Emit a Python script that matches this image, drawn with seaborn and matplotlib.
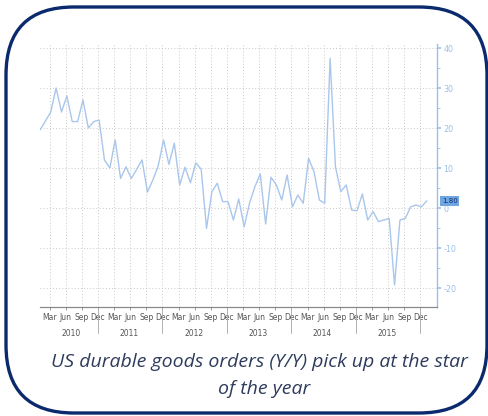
import numpy as np
import pandas as pd
import matplotlib
matplotlib.use("Agg")
import matplotlib.pyplot as plt
import seaborn as sns
from matplotlib.patches import FancyBboxPatch
from matplotlib.ticker import MultipleLocator

# Monthly US durable goods orders, Y/Y %, Jan 2010 .. Jan 2016
values = [19.5, 21.7, 24.0, 30.0, 24.0, 28.0, 21.6, 21.6, 27.0, 20.0, 21.6, 22.0,
          12.0, 10.0, 17.0, 7.4, 10.3, 7.4, 9.7, 12.0, 4.0, 7.0, 10.5, 17.0,
          10.9, 16.2, 5.75, 10.2, 6.3, 11.3, 9.7, -5.1, 4.1, 6.2, 1.6, 1.6,
          -3.0, 2.25, -4.7, 1.2, 5.3, 8.5, -4.0, 7.7, 5.75, 2.0, 8.25, 0.3,
          3.25, 1.2, 12.4, 9.1, 2.0, 1.2, 37.4, 10.3, 4.1, 5.75, -0.5, -0.7,
          3.5, -3.0, -0.9, -3.4, -3.0, -2.6, -19.25, -3.0, -2.6, 0.3, 0.75, 0.3,
          1.8]
month_idx = list(range(len(values)))

quarter_labels = ["Mar", "Jun", "Sep", "Dec"]
years = ["2010", "2011", "2012", "2013", "2014", "2015"]
y_ticks = [40, 30, 20, 10, 0, -10, -20]
last_label = "1.80"

df = pd.DataFrame({"m": month_idx, "v": values})

sns.set_theme(style="white")
plt.rcParams["font.family"] = ["DejaVu Sans"]

W, H = 489, 416
fig = plt.figure(figsize=(W / 100, H / 100), dpi=100)
fig.patch.set_facecolor("white")

# background overlay axes in pixel coordinates
bg = fig.add_axes([0, 0, 1, 1], zorder=-1)
bg.set_xlim(0, W)
bg.set_ylim(H, 0)
bg.axis("off")
border = FancyBboxPatch((6, 7), 481, 406, boxstyle="round,pad=0,rounding_size=68",
                        fill=False, edgecolor="#0b2a6e", linewidth=2.4, clip_on=False)
bg.add_patch(border)
cap_color = "#2d3b5c"
bg.text(259, 362, "US durable goods orders (Y/Y) pick up at the star", ha="center", va="center",
        fontsize=14.0, style="italic", color=cap_color, family="Open Sans")
bg.text(264, 389, "of the year", ha="center", va="center",
        fontsize=14.0, style="italic", color=cap_color, family="Open Sans")

# main chart
x0, x1 = 40, 437
y_top, y_bot = 44, 307
ax = fig.add_axes([x0 / W, 1 - y_bot / H, (x1 - x0) / W, (y_bot - y_top) / H])
ax.set_facecolor("none")
sns.lineplot(data=df, x="m", y="v", ax=ax, color="#a9c6ec", linewidth=1.0)
ax.set_xlim(0, 73.9)
ax.set_ylim(-24.75, 41)
ax.set_xlabel("")
ax.set_ylabel("")

# gridlines
grid_kw = dict(color="#c9c9c9", linewidth=0.7, linestyle=(0, (1, 2.2)), zorder=0)
for yv in y_ticks:
    ax.axhline(yv, **grid_kw)
q_pos = []
q_lab = []
for yi in range(len(years)):
    for qi, ql in enumerate(quarter_labels):
        pos = 12 * yi + 2 + 3 * qi - 0.2
        q_pos.append(pos)
        q_lab.append(ql)
for p in q_pos:
    ax.axvline(p, **grid_kw)

# right y axis
ax.yaxis.tick_right()
ax.set_yticks(y_ticks)
ax.set_yticklabels([str(t) for t in y_ticks])
ax.yaxis.set_minor_locator(MultipleLocator(5))
axis_blue = "#9cc0e8"
ax.tick_params(axis="y", which="major", direction="out", length=3, width=1.2,
               colors=axis_blue, labelsize=5.8, pad=1.5)
ax.tick_params(axis="y", which="minor", direction="out", length=2, width=0.6,
               color=axis_blue, right=True)
for s in ["top", "left"]:
    ax.spines[s].set_visible(False)
ax.spines["right"].set_color(axis_blue)
ax.spines["right"].set_linewidth(1.0)
ax.spines["bottom"].set_color("#8a8a8a")
ax.spines["bottom"].set_linewidth(0.9)

# x axis labels
ax.set_xticks(q_pos)
ax.set_xticklabels(q_lab)
ax.tick_params(axis="x", which="major", length=2, width=0.6, color="#8a8a8a",
               labelsize=5.5, labelcolor="#555555", pad=2, bottom=True)

# year labels and separators
year_centers = [5.8, 16.6, 28.7, 40.6, 52.6, 64.6]
for yc, yl in zip(year_centers, years):
    ax.text(yc, -0.1, yl, transform=ax.get_xaxis_transform(), ha="center", va="center",
            fontsize=5.5, color="#555555")
for yi in range(len(years)):
    sep = 12 * yi + 11 - 0.2
    ax.plot([sep, sep], [0, -0.1], transform=ax.get_xaxis_transform(),
            color="#b0b0b0", linewidth=0.7, clip_on=False)

# last value label
ax.text(1.012, (values[-1] + 24.75) / 65.75, last_label, transform=ax.transAxes,
        ha="left", va="center", fontsize=5, color="#0b2a6e",
        bbox=dict(boxstyle="square,pad=0.25", facecolor="#6fa6e0", edgecolor="none"))

fig.savefig("out.png", dpi=100, facecolor="white")
